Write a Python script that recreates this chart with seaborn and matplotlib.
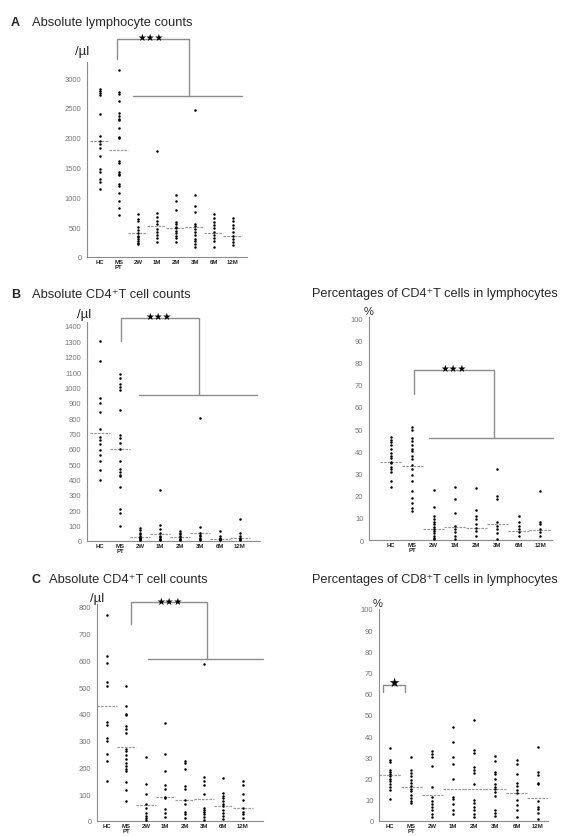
import numpy as np
import pandas as pd
import seaborn as sns
import matplotlib.pyplot as plt

W, H = 566, 837

groups = ["HC", "MS PT", "2W", "1M", "2M", "3M", "6M", "12M"]
tick_labels = ["HC", "MS\nPT", "2W", "1M", "2M", "3M", "6M", "12M"]

# A  absolute lymphocyte counts (/ul)
lym_hc = [2810, 2780, 2750, 2720, 2400, 2030, 1950, 1900, 1830, 1690, 1480, 1430, 1300, 1260, 1140]
lym_ms = [3140, 2760, 2730, 2620, 2410, 2360, 2320, 2290, 2170, 2020, 1990, 1610, 1580, 1420,
          1390, 1370, 1220, 1190, 1080, 940, 830, 700]
lym_2w = [720, 640, 600, 500, 460, 400, 360, 330, 300, 270, 240, 220]
lym_1m = [1780, 740, 670, 600, 550, 470, 420, 370, 320, 250]
lym_2m = [1040, 940, 780, 580, 550, 510, 480, 440, 400, 360, 320, 250]
lym_3m = [2470, 1040, 860, 750, 560, 520, 470, 420, 370, 310, 260, 210, 160]
lym_6m = [720, 660, 590, 540, 480, 420, 370, 320, 260, 170]
lym_12m = [660, 600, 540, 480, 420, 350, 300, 250, 200]
lym_mean = [1940, 1790, 410, 520, 490, 500, 400, 355]

# B  absolute CD4+ T cell counts (/ul)
cd4_hc = [1300, 1170, 930, 900, 840, 730, 680, 660, 630, 590, 560, 520, 460, 400]
cd4_ms = [1090, 1060, 1020, 1000, 980, 850, 690, 670, 640, 600, 520, 470, 450, 430, 420,
          350, 210, 180, 100]
cd4_2w = [85, 70, 55, 45, 35, 25, 20, 15, 10, 5]
cd4_1m = [335, 105, 75, 50, 35, 25, 15, 10, 5]
cd4_2m = [65, 55, 45, 35, 25, 15, 10, 5]
cd4_3m = [800, 90, 55, 40, 30, 20, 10, 5]
cd4_6m = [65, 30, 20, 15, 10, 5]
cd4_12m = [145, 50, 30, 20, 10, 5]
cd4_mean = [705, 600, 25, 45, 25, 55, 15, 20]

# B  percentages of CD4+ T cells in lymphocytes
pct4_hc = [46.5, 45, 44, 43, 41, 39, 38, 37, 35, 34.5, 33, 32, 30.5, 26.5, 24]
pct4_ms = [51, 49.5, 46, 44.5, 43, 41, 40, 38, 36.5, 34, 32, 29.5, 26.5, 22, 19, 16.5, 14.5, 13]
pct4_2w = [22.5, 15, 11, 9.5, 8, 7, 6, 5, 4, 3, 2, 1, 0.5]
pct4_1m = [24, 18.5, 12, 6.5, 5, 3.5, 2, 0.5]
pct4_2m = [23.5, 13.5, 11, 9.5, 7, 5.5, 4, 2]
pct4_3m = [32, 20, 18.5, 8, 6.5, 5, 3, 0.5]
pct4_6m = [11, 8, 6.5, 5, 3.5, 2]
pct4_12m = [22, 8, 7, 5, 3.5, 2]
pct4_mean = [35, 33.5, 5, 6, 5.5, 7, 4, 4.5]

# C  absolute counts (second panel, /ul)
cd8_hc = [770, 615, 590, 520, 505, 370, 360, 310, 300, 250, 225, 150]
cd8_ms = [505, 430, 400, 395, 355, 345, 330, 270, 260, 245, 230, 215, 205, 195, 185, 145, 115, 75]
cd8_2w = [240, 140, 100, 65, 50, 30, 20, 10, 5]
cd8_1m = [367, 250, 188, 135, 120, 90, 85, 45, 30, 15]
cd8_2m = [225, 215, 193, 130, 120, 80, 65, 35, 25, 10]
cd8_3m = [585, 165, 150, 135, 100, 50, 42, 35, 25, 15, 5]
cd8_6m = [160, 105, 95, 85, 75, 65, 55, 40, 30, 18, 8]
cd8_12m = [150, 135, 100, 80, 50, 35, 25, 10]
cd8_mean = [430, 277, 58, 90, 80, 83, 55, 48]

# C  percentages of CD8+ T cells in lymphocytes
pct8_hc = [34.5, 29, 28, 24, 23, 22, 21, 20, 19, 17.5, 16, 14.5, 10.5]
pct8_ms = [30, 24, 22.5, 21, 19.5, 18, 16.5, 15, 14, 12.5, 11, 9.5, 8.5]
pct8_2w = [33, 31.5, 30, 26, 16, 11.5, 9.5, 8, 6.5, 5, 3.5, 2]
pct8_1m = [44.5, 37.5, 30, 27, 20, 11.5, 10.5, 8, 5, 3.5]
pct8_2m = [47.5, 33.5, 32, 25.5, 24, 22.5, 17.5, 10, 8.5, 6.5, 5, 3.5, 2]
pct8_3m = [30.5, 28.5, 23, 22, 20, 17.5, 16, 15, 13.5, 12, 5, 4, 2.5]
pct8_6m = [29, 27, 22, 18, 16.5, 14.5, 13, 10, 7.5, 5, 2]
pct8_12m = [35, 23, 21.5, 18, 17.5, 9.5, 6.5, 5.5, 4, 1]
pct8_mean = [21.5, 16, 12.5, 15, 15, 15, 13, 11]

# significance brackets: (x, y) of the hook, then the baseline under the later groups
brk_a = ([0.9, 0.9, 4.68, 4.68], [3320, 3650, 3650, 2700], [1.74, 7.5], 2700)
brk_b = ([1.05, 1.05, 4.95, 4.95], [1300, 1452, 1452, 950], [1.95, 7.85], 950)
brk_b2 = ([1.09, 1.09, 4.85, 4.85], [66, 76.5, 76.5, 46], [1.8, 7.6], 46)
brk_c = ([1.24, 1.24, 5.15, 5.15], [736, 817, 817, 606], [2.13, 8.06], 606)
brk_c2 = ([-0.32, -0.32, 0.71, 0.71], [61, 64, 64, 61])


def long_df(series):
    rows = []
    for g, vals in zip(groups, series):
        for v in vals:
            rows.append((g, v))
    return pd.DataFrame(rows, columns=["group", "value"])


def box(x0, y0, x1, y1):
    return [x0 / W, 1 - y1 / H, (x1 - x0) / W, (y1 - y0) / H]


sns.set_style("white")
plt.rcParams['font.family'] = ['Liberation Sans', 'DejaVu Sans']

GRAY = "#8c8c8c"
fig = plt.figure(figsize=(W / 100, H / 100), dpi=100)


def panel(rect, series, means, xlim, ylim, yticks):
    ax = fig.add_axes(box(*rect))
    df = long_df(series)
    sns.stripplot(data=df, x="group", y="value", order=groups, jitter=False,
                  color="black", size=1.8, linewidth=0, ax=ax)
    for c in ax.collections:
        c.set_clip_on(False)
    xs = np.arange(len(groups))
    ax.hlines(means, xs - 0.5, xs + 0.5, colors="#999999", linewidth=0.9,
              linestyles=(0, (2, 1)))
    ax.set_xlim(*xlim)
    ax.set_ylim(*ylim)
    ax.set_yticks(yticks)
    ax.set_xticks(xs)
    ax.set_xticklabels(tick_labels, fontsize=4.3, fontweight="bold", linespacing=0.95)
    ax.set_xlabel("")
    ax.set_ylabel("")
    ax.tick_params(axis="y", direction="out", length=2.5, width=0.6, color=GRAY,
                   labelsize=5.5, labelcolor="#777777", pad=1.5)
    ax.tick_params(axis="x", length=0, pad=1.5)
    sns.despine(ax=ax)
    for s in ["left", "bottom"]:
        ax.spines[s].set_color(GRAY)
        ax.spines[s].set_linewidth(0.8)
        ax.spines[s].set_linestyle((0, (1.5, 0.5)))
    return ax


def bracket(ax, brk, star_x, star_y, nstars=3, fs=7):
    ax.plot(brk[0], brk[1], color=GRAY, lw=1.0, clip_on=False)
    if len(brk) > 2:
        ax.plot(brk[2], [brk[3], brk[3]], color=GRAY, lw=1.0, clip_on=False)
    ax.text(star_x, star_y, "\u2605" * nstars, family="DejaVu Sans", fontsize=fs,
            ha="center", va="bottom", color="black", clip_on=False)


ax_a = panel((87, 63, 247, 258),
             [lym_hc, lym_ms, lym_2w, lym_1m, lym_2m, lym_3m, lym_6m, lym_12m], lym_mean,
             (-0.68, 7.74), (0, 3270), range(0, 3001, 500))
bracket(ax_a, brk_a, 2.65, 3610)

ax_b = panel((87, 323, 260, 542),
             [cd4_hc, cd4_ms, cd4_2w, cd4_1m, cd4_2m, cd4_3m, cd4_6m, cd4_12m], cd4_mean,
             (-0.65, 8.0), (0, 1426), range(0, 1401, 100))
bracket(ax_b, brk_b, 2.9, 1432)

ax_b2 = panel((369, 318, 552, 541),
              [pct4_hc, pct4_ms, pct4_2w, pct4_1m, pct4_2m, pct4_3m, pct4_6m, pct4_12m], pct4_mean,
              (-1.03, 7.56), (0, 100.5), range(0, 101, 10))
bracket(ax_b2, brk_b2, 2.93, 75.5)

ax_c = panel((97, 605, 263, 822),
             [cd8_hc, cd8_ms, cd8_2w, cd8_1m, cd8_2m, cd8_3m, cd8_6m, cd8_12m], cd8_mean,
             (-0.52, 8.04), (0, 811), range(0, 801, 100))
bracket(ax_c, brk_c, 3.2, 805)

ax_c2 = panel((379, 610, 548, 822),
              [pct8_hc, pct8_ms, pct8_2w, pct8_1m, pct8_2m, pct8_3m, pct8_6m, pct8_12m], pct8_mean,
              (-0.52, 7.49), (0, 100), range(0, 101, 10))
bracket(ax_c2, brk_c2, 0.2, 62.5, nstars=1, fs=9)


# titles
def ftext(x, y, s, **kw):
    fig.text(x / W, 1 - y / H, s, va="center", ha="left", **kw)


ftext(11, 23, "A", fontsize=9, fontweight="bold")
ftext(32, 23, "Absolute lymphocyte counts", fontsize=9.3)
ftext(11, 295, "B", fontsize=9, fontweight="bold")
ftext(32, 295, "Absolute CD4\u207aT cell counts", fontsize=9.3)
ftext(312, 294, "Percentages of CD4\u207aT cells in lymphocytes", fontsize=9.2)
ftext(31, 580, "C", fontsize=9, fontweight="bold")
ftext(49, 580, "Absolute CD4\u207aT cell counts", fontsize=9.3)
ftext(312, 580, "Percentages of CD8\u207aT cells in lymphocytes", fontsize=9.2)

# units
ftext(75, 52, "/\u00b5l", fontsize=9.5)
ftext(77, 315, "/\u00b5l", fontsize=9.5)
ftext(364, 312, "%", fontsize=8)
ftext(90, 599, "/\u00b5l", fontsize=9.5)
ftext(373, 604, "%", fontsize=8)

fig.savefig("out.png", dpi=100)
